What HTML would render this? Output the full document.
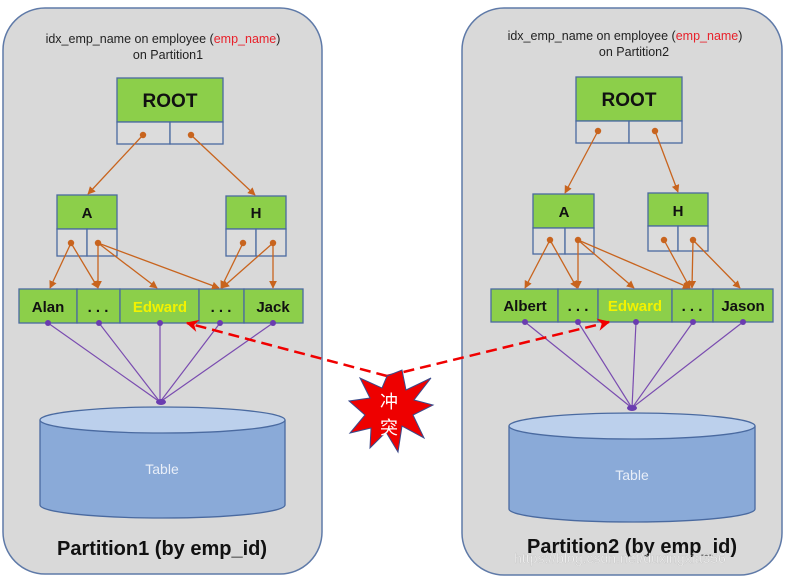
<!DOCTYPE html>
<html><head><meta charset="utf-8"><style>
html,body{margin:0;padding:0;background:#fff;width:787px;height:578px;overflow:hidden}
svg{display:block}
text{font-family:"Liberation Sans","Noto Sans CJK SC",sans-serif}
</style></head><body>
<svg width="787" height="578" viewBox="0 0 787 578" xmlns="http://www.w3.org/2000/svg">
<defs>
<marker id="ao" viewBox="0 0 10 10" refX="9" refY="5" markerWidth="6" markerHeight="6" orient="auto"><path d="M0,0 L10,5 L0,10 z" fill="#c8641e"/></marker>
<marker id="ar" viewBox="0 0 10 10" refX="9" refY="5" markerWidth="5" markerHeight="5" orient="auto"><path d="M0,0 L10,5 L0,10 L3,5 z" fill="#f00000"/></marker>
</defs>
<!-- panels -->
<rect x="3" y="8" width="319" height="566" rx="42" fill="#d9d9d9" stroke="#5f7aa8" stroke-width="1.5"/>
<rect x="462" y="8" width="320" height="567" rx="42" fill="#d9d9d9" stroke="#5f7aa8" stroke-width="1.5"/>

<!-- titles -->
<text x="163" y="43" font-size="12.5" text-anchor="middle" fill="#222">idx_emp_name on employee (<tspan fill="#e8202a">emp_name</tspan>)</text>
<text x="168" y="59" font-size="12.5" text-anchor="middle" fill="#222">on Partition1</text>
<text x="625" y="40" font-size="12.5" text-anchor="middle" fill="#222">idx_emp_name on employee (<tspan fill="#e8202a">emp_name</tspan>)</text>
<text x="634" y="56" font-size="12.5" text-anchor="middle" fill="#222">on Partition2</text>

<g stroke="#4a6aa0" stroke-width="1.3">
<!-- left tree -->
<rect x="117" y="78" width="106" height="44" fill="#8ccf4a"/>
<rect x="117" y="122" width="53" height="22" fill="#dcdcdc"/><rect x="170" y="122" width="53" height="22" fill="#dcdcdc"/>
<rect x="57" y="195" width="60" height="34" fill="#8ccf4a"/>
<rect x="57" y="229" width="30" height="27" fill="#dcdcdc"/><rect x="87" y="229" width="30" height="27" fill="#dcdcdc"/>
<rect x="226" y="196" width="60" height="33" fill="#8ccf4a"/>
<rect x="226" y="229" width="30" height="27" fill="#dcdcdc"/><rect x="256" y="229" width="30" height="27" fill="#dcdcdc"/>
<rect x="19" y="289" width="58" height="34" fill="#8ccf4a"/>
<rect x="77" y="289" width="43" height="34" fill="#8ccf4a"/>
<rect x="120" y="289" width="79" height="34" fill="#8ccf4a"/>
<rect x="199" y="289" width="45" height="34" fill="#8ccf4a"/>
<rect x="244" y="289" width="59" height="34" fill="#8ccf4a"/>
<!-- right tree -->
<rect x="576" y="77" width="106" height="44" fill="#8ccf4a"/>
<rect x="576" y="121" width="53" height="22" fill="#dcdcdc"/><rect x="629" y="121" width="53" height="22" fill="#dcdcdc"/>
<rect x="533" y="194" width="61" height="34" fill="#8ccf4a"/>
<rect x="533" y="228" width="32" height="26" fill="#dcdcdc"/><rect x="565" y="228" width="29" height="26" fill="#dcdcdc"/>
<rect x="648" y="193" width="60" height="33" fill="#8ccf4a"/>
<rect x="648" y="226" width="30" height="25" fill="#dcdcdc"/><rect x="678" y="226" width="30" height="25" fill="#dcdcdc"/>
<rect x="491" y="289" width="67" height="33" fill="#8ccf4a"/>
<rect x="558" y="289" width="40" height="33" fill="#8ccf4a"/>
<rect x="598" y="289" width="74" height="33" fill="#8ccf4a"/>
<rect x="672" y="289" width="41" height="33" fill="#8ccf4a"/>
<rect x="713" y="289" width="60" height="33" fill="#8ccf4a"/>
</g>

<g font-weight="bold" text-anchor="middle" fill="#111">
<text x="170" y="107" font-size="19">ROOT</text>
<text x="87" y="218" font-size="15">A</text>
<text x="256" y="218" font-size="15">H</text>
<text x="48" y="312" font-size="15">Alan</text>
<text x="98" y="312" font-size="15">. . .</text>
<text x="160" y="312" font-size="15" fill="#f2f200">Edward</text>
<text x="221" y="312" font-size="15">. . .</text>
<text x="273" y="312" font-size="15">Jack</text>
<text x="629" y="106" font-size="19">ROOT</text>
<text x="564" y="217" font-size="15">A</text>
<text x="678" y="216" font-size="15">H</text>
<text x="525" y="311" font-size="15">Albert</text>
<text x="578" y="311" font-size="15">. . .</text>
<text x="635" y="311" font-size="15" fill="#f2f200">Edward</text>
<text x="692" y="311" font-size="15">. . .</text>
<text x="743" y="311" font-size="15">Jason</text>
</g>

<!-- orange arrows -->
<g stroke="#c8641e" stroke-width="1.3" fill="none" marker-end="url(#ao)">
<line x1="143" y1="135" x2="88" y2="194"/><line x1="191" y1="135" x2="255" y2="195"/>
<line x1="71" y1="243" x2="50" y2="288"/><line x1="71" y1="243" x2="98" y2="288"/>
<line x1="98" y1="243" x2="98" y2="288"/><line x1="98" y1="243" x2="157" y2="288"/><line x1="98" y1="243" x2="219" y2="288"/>
<line x1="243" y1="243" x2="221" y2="288"/><line x1="273" y1="243" x2="222" y2="288"/><line x1="273" y1="243" x2="273" y2="288"/>
<line x1="598" y1="131" x2="565" y2="193"/><line x1="655" y1="131" x2="678" y2="192"/>
<line x1="550" y1="240" x2="525" y2="288"/><line x1="550" y1="240" x2="577" y2="288"/>
<line x1="578" y1="240" x2="578" y2="288"/><line x1="578" y1="240" x2="634" y2="288"/><line x1="578" y1="240" x2="690" y2="288"/>
<line x1="664" y1="240" x2="690" y2="288"/><line x1="693" y1="240" x2="692" y2="288"/><line x1="693" y1="240" x2="740" y2="288"/>
</g>
<g fill="#c8641e">
<circle cx="143" cy="135" r="3.2"/><circle cx="191" cy="135" r="3.2"/>
<circle cx="71" cy="243" r="3.2"/><circle cx="98" cy="243" r="3.2"/><circle cx="243" cy="243" r="3.2"/><circle cx="273" cy="243" r="3.2"/>
<circle cx="598" cy="131" r="3.2"/><circle cx="655" cy="131" r="3.2"/>
<circle cx="550" cy="240" r="3.2"/><circle cx="578" cy="240" r="3.2"/><circle cx="664" cy="240" r="3.2"/><circle cx="693" cy="240" r="3.2"/>
</g>

<!-- cylinders -->
<path d="M40,420 L40,505 A122.5,13 0 0 0 285,505 L285,420" fill="#8aaad8" stroke="#4a6aa0" stroke-width="1.3"/>
<ellipse cx="162.5" cy="420" rx="122.5" ry="13" fill="#bcd0ec" stroke="#4a6aa0" stroke-width="1.3"/>
<text x="162" y="474" font-size="14" fill="#e8eef8" text-anchor="middle">Table</text>
<path d="M509,426 L509,509 A123,13 0 0 0 755,509 L755,426" fill="#8aaad8" stroke="#4a6aa0" stroke-width="1.3"/>
<ellipse cx="632" cy="426" rx="123" ry="13" fill="#bcd0ec" stroke="#4a6aa0" stroke-width="1.3"/>
<text x="632" y="480" font-size="14" fill="#e8eef8" text-anchor="middle">Table</text>

<!-- purple lines -->
<g stroke="#7a4cb0" stroke-width="1.2">
<line x1="48" y1="323" x2="160" y2="402"/><line x1="99" y1="323" x2="160" y2="402"/><line x1="160" y1="323" x2="160" y2="402"/><line x1="220" y1="323" x2="160" y2="402"/><line x1="273" y1="323" x2="160" y2="402"/>
<line x1="525" y1="322" x2="632" y2="408"/><line x1="578" y1="322" x2="632" y2="408"/><line x1="636" y1="322" x2="632" y2="408"/><line x1="693" y1="322" x2="632" y2="408"/><line x1="743" y1="322" x2="632" y2="408"/>
</g>
<g fill="#6a3cb0">
<circle cx="48" cy="323" r="3"/><circle cx="99" cy="323" r="3"/><circle cx="160" cy="323" r="3"/><circle cx="220" cy="323" r="3"/><circle cx="273" cy="323" r="3"/>
<ellipse cx="161" cy="402" rx="5" ry="3"/>
<circle cx="525" cy="322" r="3"/><circle cx="578" cy="322" r="3"/><circle cx="636" cy="322" r="3"/><circle cx="693" cy="322" r="3"/><circle cx="743" cy="322" r="3"/>
<ellipse cx="632" cy="408" rx="5" ry="3"/>
</g>

<!-- bottom titles -->
<text x="162" y="555" font-size="20" font-weight="bold" text-anchor="middle" fill="#111">Partition1 (by emp_id)</text>
<text x="632" y="553" font-size="20" font-weight="bold" text-anchor="middle" fill="#111">Partition2 (by emp_id)</text>

<!-- conflict -->
<g stroke="#f00000" stroke-width="2.5" stroke-dasharray="11,6" fill="none">
<line x1="387" y1="376" x2="187" y2="323" marker-end="url(#ar)"/>
<line x1="387" y1="376" x2="609" y2="322" marker-end="url(#ar)"/>
</g>
<polygon points="402,370 406,390 431,378 414,400 433,405 413,415 424,438 402,426 398,452 386,432 370,448 371,428 350,433 365,415 349,401 370,398 360,378 382,388 387,376"
 fill="#ee0000" stroke="#3a4a8a" stroke-width="1"/>
<text x="389" y="408" font-size="18" fill="#fff" text-anchor="middle">冲</text>
<text x="389" y="434" font-size="18" fill="#fff" text-anchor="middle">突</text>

<!-- watermark -->
<text x="620" y="563" font-size="14" fill="#f4f4f4" fill-opacity="0.85" text-anchor="middle" stroke="#bbb" stroke-width="0.3">https://blog.csdn.net/duxingxia356</text>
</svg>
</body></html>
